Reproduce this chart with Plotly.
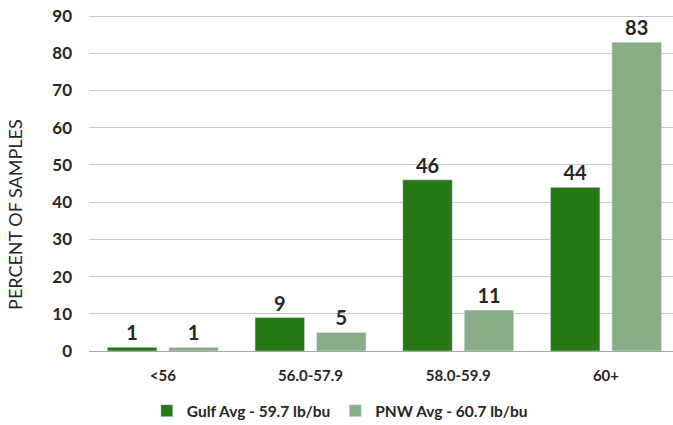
import plotly.graph_objects as go

categories = ["<56", "56.0-57.9", "58.0-59.9", "60+"]
gulf = [1, 9, 46, 44]
pnw = [1, 5, 11, 83]
gulf_name = "Gulf Avg - 59.7 lb/bu"
pnw_name = "PNW Avg - 60.7 lb/bu"
y_ticks = [0, 10, 20, 30, 40, 50, 60, 70, 80, 90]
y_title = "PERCENT OF SAMPLES"

FONT = "Lato"
TXT = "#262626"

fig = go.Figure()
fig.add_trace(go.Bar(
    x=categories, y=gulf, name=gulf_name, marker_color="#267716",
    text=gulf, textposition="outside", cliponaxis=False,
    textfont=dict(family=FONT, size=20, color=TXT, weight="bold"),
))
fig.add_trace(go.Bar(
    x=categories, y=pnw, name=pnw_name, marker_color="#89AD86",
    text=pnw, textposition="outside", cliponaxis=False,
    textfont=dict(family=FONT, size=20, color=TXT, weight="bold"),
))

fig.add_annotation(
    text=y_title, textangle=-90, xref="paper", yref="paper",
    x=(15 - 89) / 584, y=0.405, xanchor="center", yanchor="middle", showarrow=False,
    font=dict(family=FONT, size=18, color=TXT),
)

fig.update_layout(
    width=673, height=425,
    margin=dict(l=89, r=0, t=15, b=74, autoexpand=False),
    paper_bgcolor="white", plot_bgcolor="white",
    barmode="group", bargap=0.167, bargroupgap=0.195,
    font=dict(family=FONT, color=TXT),
    showlegend=True,
    legend=dict(orientation="h", x=0.099, xanchor="left", y=-0.179, yanchor="middle",
                font=dict(family=FONT, size=15.5, color=TXT, weight="bold"),
                itemwidth=30, traceorder="normal"),
    xaxis=dict(range=[-0.5, 3.454], showgrid=False, showline=True, linecolor="#a6a6a6",
               linewidth=1, ticks="", automargin=False,
               tickfont=dict(family=FONT, size=15, color=TXT, weight="bold"),
               ticklabelstandoff=11),
    yaxis=dict(range=[0, 90.3], tickvals=y_ticks, showgrid=True, gridcolor="#c8c8c8",
               gridwidth=1, zeroline=False, showline=False, automargin=False,
               tickfont=dict(family=FONT, size=17, color=TXT, weight="bold"),
               ticklabelstandoff=16),
)

fig.write_html("out.html", config={"displayModeBar": False},
               post_script="document.body.style.margin='0';")
